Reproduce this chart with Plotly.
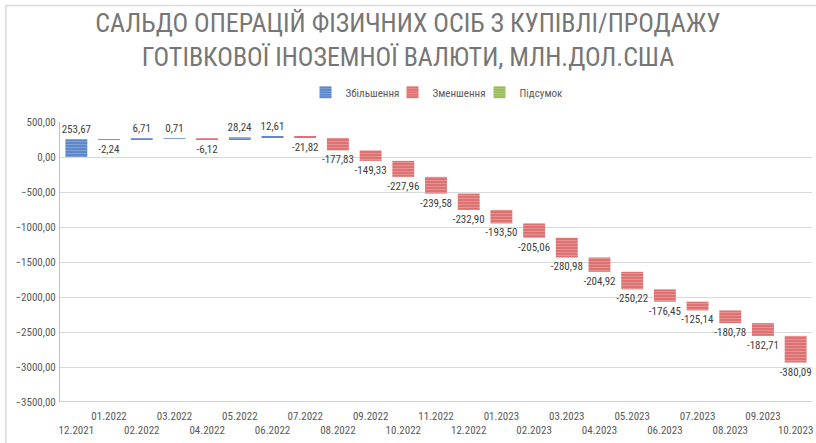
import plotly.graph_objects as go

months = ["12.2021", "01.2022", "02.2022", "03.2022", "04.2022", "05.2022", "06.2022",
          "07.2022", "08.2022", "09.2022", "10.2022", "11.2022", "12.2022", "01.2023",
          "02.2023", "03.2023", "04.2023", "05.2023", "06.2023", "07.2023", "08.2023",
          "09.2023", "10.2023"]
changes = [253.67, -2.24, 6.71, 0.71, -6.12, 28.24, 12.61, -21.82, -177.83, -149.33,
           -227.96, -239.58, -232.90, -193.50, -205.06, -280.98, -204.92, -250.22,
           -176.45, -125.14, -180.78, -182.71, -380.09]
# Підсумок series: legend entry only, no visible total bars in the chart
totals_x = ["12.2021"]
totals_y = [0]
y_ticks = [500, 0, -500, -1000, -1500, -2000, -2500, -3000, -3500]

title_text = "САЛЬДО ОПЕРАЦІЙ ФІЗИЧНИХ ОСІБ З КУПІВЛІ/ПРОДАЖУ<br>ГОТІВКОВОЇ ІНОЗЕМНОЇ ВАЛЮТИ, МЛН.ДОЛ.США"

# floating bar bases from running total
bases = []
running = 0.0
for v in changes:
    bases.append(running)
    running += v

inc_x = [m for m, v in zip(months, changes) if v >= 0]
inc_y = [v for v in changes if v >= 0]
inc_b = [b for b, v in zip(bases, changes) if v >= 0]
dec_x = [m for m, v in zip(months, changes) if v < 0]
dec_y = [v for v in changes if v < 0]
dec_b = [b for b, v in zip(bases, changes) if v < 0]

BLUE = "#5a84c6"
BLUE_L = "#a3bde6"
RED = "#db6f6f"
RED_L = "#f3b3b3"
GREEN = "#98bb58"
GREEN_L = "#c7dca0"

NARROW = "Liberation Sans Narrow, Roboto Condensed, Arial Narrow, sans-serif"
label_font = dict(family=NARROW, size=11, color="#404040")

fig = go.Figure()
fig.add_trace(go.Bar(
    name="Збільшення", x=inc_x, y=inc_y, base=inc_b,
    marker=dict(color=BLUE, line=dict(width=0),
                pattern=dict(shape="-", bgcolor=BLUE, fgcolor=BLUE_L, size=3, solidity=0.4, fillmode="overlay")),
    texttemplate="%{y:.2f}", textposition="outside", textfont=label_font,
    constraintext="none", cliponaxis=False,
))
fig.add_trace(go.Bar(
    name="Зменшення", x=dec_x, y=dec_y, base=dec_b,
    marker=dict(color=RED, line=dict(width=0),
                pattern=dict(shape="-", bgcolor=RED, fgcolor=RED_L, size=3, solidity=0.4, fillmode="overlay")),
    texttemplate="%{y:.2f}", textposition="outside", textfont=label_font,
    constraintext="none", cliponaxis=False,
))
fig.add_trace(go.Bar(
    name="Підсумок", x=totals_x, y=totals_y, base=[0],
    marker=dict(color=GREEN, line=dict(width=0),
                pattern=dict(shape="-", bgcolor=GREEN, fgcolor=GREEN_L, size=3, solidity=0.4, fillmode="overlay")),
    showlegend=True, hoverinfo="skip",
))

ticktext = [(m + "<br> ") if i % 2 == 1 else (" <br>" + m) for i, m in enumerate(months)]

fig.update_layout(
    width=816, height=443,
    margin=dict(l=60, r=4, t=122, b=41, autoexpand=False),
    paper_bgcolor="white", plot_bgcolor="white",
    separators=",.",
    barmode="overlay",
    bargap=0.33,
    title=dict(text=title_text, x=0.5, xanchor="center", yref="container", y=0.928, yanchor="middle",
               font=dict(family=NARROW, size=26, color="#767676")),
    legend=dict(orientation="h", x=0.5, xanchor="center", y=1.106, yanchor="middle",
                font=dict(family=NARROW, size=11, color="#595959"),
                itemwidth=30, traceorder="normal", entrywidth=42, entrywidthmode="pixels"),
    xaxis=dict(type="category", categoryorder="array", categoryarray=months,
               tickvals=months, ticktext=ticktext, tickangle=0,
               showgrid=False, showline=False, ticks="", ticklen=0, automargin=False,
               ticklabelstandoff=6,
               tickfont=dict(family=NARROW, size=11, color="#595959")),
    yaxis=dict(range=[-3500, 500], tickvals=y_ticks, tickformat=".2f",
               showgrid=True, gridcolor="#d9d9d9", gridwidth=1,
               showline=True, linecolor="#bfbfbf", linewidth=1, zeroline=False,
               ticks="", ticklen=0, ticklabelstandoff=1, automargin=False,
               tickfont=dict(family=NARROW, size=11, color="#595959")),
    shapes=[dict(type="line", xref="paper", yref="y", x0=0, x1=1, y0=-3500, y1=-3500,
                 line=dict(color="#bfbfbf", width=1.5)),
            dict(type="line", xref="paper", yref="paper", x0=-0.072, x1=1.0107, y0=1.416, y1=1.416,
                 line=dict(color="#d9d9d9", width=1.5), layer="below"),
            dict(type="line", xref="paper", yref="paper", x0=-0.072, x1=-0.072, y0=1.416, y1=-0.146,
                 line=dict(color="#d9d9d9", width=1.5), layer="below")],
)

fig.write_html("out.html", config={"displayModeBar": False},
               post_script="document.body.style.margin='0';document.body.style.overflow='hidden';")
